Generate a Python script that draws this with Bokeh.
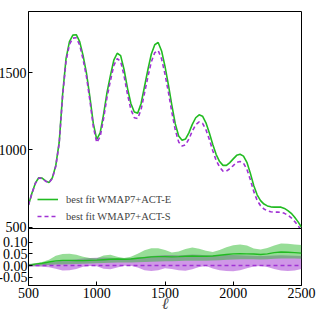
from bokeh.plotting import figure
from bokeh.layouts import column
from bokeh.models import (FixedTicker, Legend, LegendItem, AllLabels,
                          PrintfTickFormatter, Range1d)
from bokeh.embed import file_html
from bokeh.resources import INLINE

# ---------------- data ----------------
ell = [500, 525, 550, 575, 600, 625, 650, 675, 700, 725,
       750, 775, 800, 825, 850, 875, 900, 925, 950, 975,
       1000, 1025, 1050, 1075, 1100, 1125, 1150, 1175, 1200, 1225,
       1250, 1275, 1300, 1325, 1350, 1375, 1400, 1425, 1450, 1475,
       1500, 1525, 1550, 1575, 1600, 1625, 1650, 1675, 1700, 1725,
       1750, 1775, 1800, 1825, 1850, 1875, 1900, 1925, 1950, 1975,
       2000, 2025, 2050, 2075, 2100, 2125, 2150, 2175, 2200, 2225,
       2250, 2275, 2300, 2325, 2350, 2375, 2400, 2425, 2450, 2475, 2500]

cl_act_e = [645, 720, 785, 820, 818, 800, 790, 820, 900, 1050,
            1360, 1590, 1700, 1742, 1745, 1700, 1610, 1495, 1340, 1170,
            1068, 1110, 1230, 1370, 1480, 1580, 1625, 1610, 1520, 1400,
            1300, 1245, 1238, 1300, 1410, 1520, 1620, 1680, 1695, 1640,
            1540, 1420, 1290, 1170, 1090, 1062, 1070, 1110, 1165, 1208,
            1227, 1218, 1175, 1110, 1035, 970, 925, 900, 900, 918,
            942, 965, 972, 960, 920, 850, 770, 710, 672, 650,
            638, 632, 630, 631, 630, 622, 608, 590, 565, 535, 500]

cl_act_s = [643, 718, 783, 818, 816, 798, 787, 816, 895, 1042,
            1348, 1575, 1682, 1723, 1725, 1678, 1585, 1472, 1318, 1149,
            1048, 1086, 1202, 1340, 1447, 1546, 1590, 1573, 1480, 1361,
            1262, 1208, 1203, 1262, 1368, 1474, 1570, 1629, 1643, 1589,
            1490, 1373, 1245, 1130, 1052, 1025, 1032, 1070, 1122, 1163,
            1181, 1172, 1130, 1068, 995, 932, 889, 863, 863, 879,
            899, 920, 925, 914, 875, 808, 732, 674, 639, 618,
            606, 600, 598, 598, 597, 590, 578, 561, 537, 510, 478]

# relative difference of the ACT-E fit w.r.t. the ACT-S fit, with bands
ell_r = [500, 550, 600, 650, 700, 750, 800, 850, 900, 950,
         1000, 1050, 1100, 1150, 1200, 1250, 1300, 1350, 1400, 1450,
         1500, 1550, 1600, 1650, 1700, 1750, 1800, 1850, 1900, 1950,
         2000, 2050, 2100, 2150, 2200, 2250, 2300, 2350, 2400, 2450, 2500]
diff_e = [0.002, 0.006, 0.010, 0.015, 0.020, 0.022, 0.022, 0.021, 0.021, 0.022,
          0.023, 0.025, 0.027, 0.028, 0.027, 0.028, 0.031, 0.034, 0.037, 0.038,
          0.038, 0.037, 0.038, 0.040, 0.041, 0.040, 0.040, 0.041, 0.044, 0.047,
          0.050, 0.051, 0.050, 0.049, 0.047, 0.050, 0.055, 0.058, 0.057, 0.055, 0.053]
band_e_hi = [0.007, 0.010, 0.015, 0.025, 0.042, 0.049, 0.050, 0.046, 0.038, 0.032,
             0.031, 0.043, 0.046, 0.038, 0.032, 0.038, 0.050, 0.065, 0.074, 0.074,
             0.066, 0.056, 0.060, 0.071, 0.077, 0.072, 0.063, 0.058, 0.066, 0.078,
             0.087, 0.090, 0.085, 0.073, 0.069, 0.075, 0.086, 0.094, 0.093, 0.090, 0.088]
band_e_lo = [-0.004, -0.002, 0.000, 0.002, 0.004, 0.005, 0.006, 0.007, 0.008, 0.009,
             0.010, 0.011, 0.012, 0.013, 0.013, 0.013, 0.014, 0.015, 0.016, 0.017,
             0.018, 0.018, 0.019, 0.020, 0.021, 0.021, 0.021, 0.022, 0.023, 0.025,
             0.026, 0.027, 0.027, 0.027, 0.026, 0.027, 0.029, 0.030, 0.030, 0.030, 0.029]
band_s_hi = [0.006, 0.008, 0.010, 0.013, 0.017, 0.021, 0.024, 0.027, 0.030, 0.032,
             0.033, 0.034, 0.033, 0.031, 0.030, 0.031, 0.034, 0.038, 0.041, 0.043,
             0.045, 0.045, 0.044, 0.045, 0.047, 0.046, 0.044, 0.043, 0.044, 0.045,
             0.045, 0.044, 0.043, 0.042, 0.041, 0.042, 0.043, 0.044, 0.043, 0.042, 0.041]
band_s_lo = [-0.004, -0.004, -0.005, -0.007, -0.014, -0.021, -0.020, -0.015, -0.005, -0.002,
             -0.003, -0.014, -0.016, -0.008, -0.001, -0.001, -0.008, -0.020, -0.023, -0.020,
             -0.011, -0.015, -0.020, -0.022, -0.016, -0.006, -0.002, -0.012, -0.020, -0.023,
             -0.024, -0.020, -0.011, -0.004, -0.002, -0.006, -0.015, -0.021, -0.023, -0.021, -0.015]
diff_s_ell = [500, 2500]
diff_s = [0.0, 0.0]

x_ticks = [500, 1000, 1500, 2000, 2500]
y_ticks_top = [500, 1000, 1500]
y_ticks_bot = [-0.05, 0.0, 0.05, 0.10]

labels = ["best fit WMAP7+ACT-E", "best fit WMAP7+ACT-S"]

# ---------------- style ----------------
GREEN = "#22bb22"
PURPLE = "#a032d4"
FONT = "Liberation Serif"
TICK_FS = "14px"
W = 327
GAP = 6   # room under the main frame for its lowest tick label


def style_axis(ax, standoff=2):
    ax.major_tick_in = 4
    ax.major_tick_out = 0
    ax.minor_tick_line_color = None
    ax.axis_line_color = "black"
    ax.major_tick_line_color = "black"
    ax.major_label_text_font = FONT
    ax.major_label_text_color = "black"
    ax.major_label_text_font_size = TICK_FS
    ax.major_label_standoff = standoff
    ax.major_label_policy = AllLabels()


# ---------------- main panel ----------------
p1 = figure(width=W, height=11 + 217 + GAP, x_range=Range1d(500, 2500),
            y_range=Range1d(492, 1895), output_backend="svg",
            toolbar_location=None, min_border_left=31, min_border_right=21,
            min_border_top=11, min_border_bottom=GAP)
p1.grid.visible = False
p1.outline_line_color = "black"
p1.xaxis.visible = False

r_e = p1.line(ell, cl_act_e, line_color=GREEN, line_width=1.6)
r_s = p1.line(ell, cl_act_s, line_color=PURPLE, line_width=1.6,
              line_dash="4 3")

p1.yaxis.ticker = FixedTicker(ticks=y_ticks_top)
style_axis(p1.yaxis[0])

legend = Legend(items=[LegendItem(label=labels[0], renderers=[r_e]),
                       LegendItem(label=labels[1], renderers=[r_s])],
                location=(9, 5), padding=0, margin=0, spacing=3,
                label_height=14, glyph_height=14, glyph_width=21,
                label_standoff=8, border_line_color=None,
                background_fill_alpha=0, label_text_font=FONT,
                label_text_font_size="10.5px")
p1.add_layout(legend)

# ---------------- ratio panel ----------------
p2 = figure(width=W, height=87, x_range=p1.x_range,
            y_range=Range1d(-0.085, 0.158), output_backend="svg",
            toolbar_location=None, min_border_left=31, min_border_right=21,
            min_border_top=0, min_border_bottom=30,
            styles={"margin-top": f"-{GAP}px"})
p2.grid.visible = False
p2.outline_line_color = "black"
p2.border_fill_alpha = 0

p2.varea(x=ell_r, y1=band_s_lo, y2=band_s_hi, fill_color="#a030d0",
         fill_alpha=0.5)
p2.varea(x=ell_r, y1=band_e_lo, y2=band_e_hi, fill_color="#30bb30",
         fill_alpha=0.5)
p2.line(ell_r, diff_e, line_color=GREEN, line_width=1.4)
p2.line(diff_s_ell, diff_s, line_color=PURPLE, line_width=1.4,
        line_dash="4 3")

p2.xaxis.ticker = FixedTicker(ticks=x_ticks)
p2.yaxis.ticker = FixedTicker(ticks=y_ticks_bot)
p2.yaxis.formatter = PrintfTickFormatter(format="%.2f")
style_axis(p2.xaxis[0])
style_axis(p2.yaxis[0], standoff=1)
p2.xaxis.axis_label = "ℓ"
p2.xaxis.axis_label_text_font = FONT
p2.xaxis.axis_label_text_font_style = "italic"
p2.xaxis.axis_label_text_font_size = "16px"
p2.xaxis.axis_label_standoff = -6

layout = column(p1, p2, styles={"margin-left": "-5px"})

open("out.html", "w").write(file_html(layout, INLINE))
